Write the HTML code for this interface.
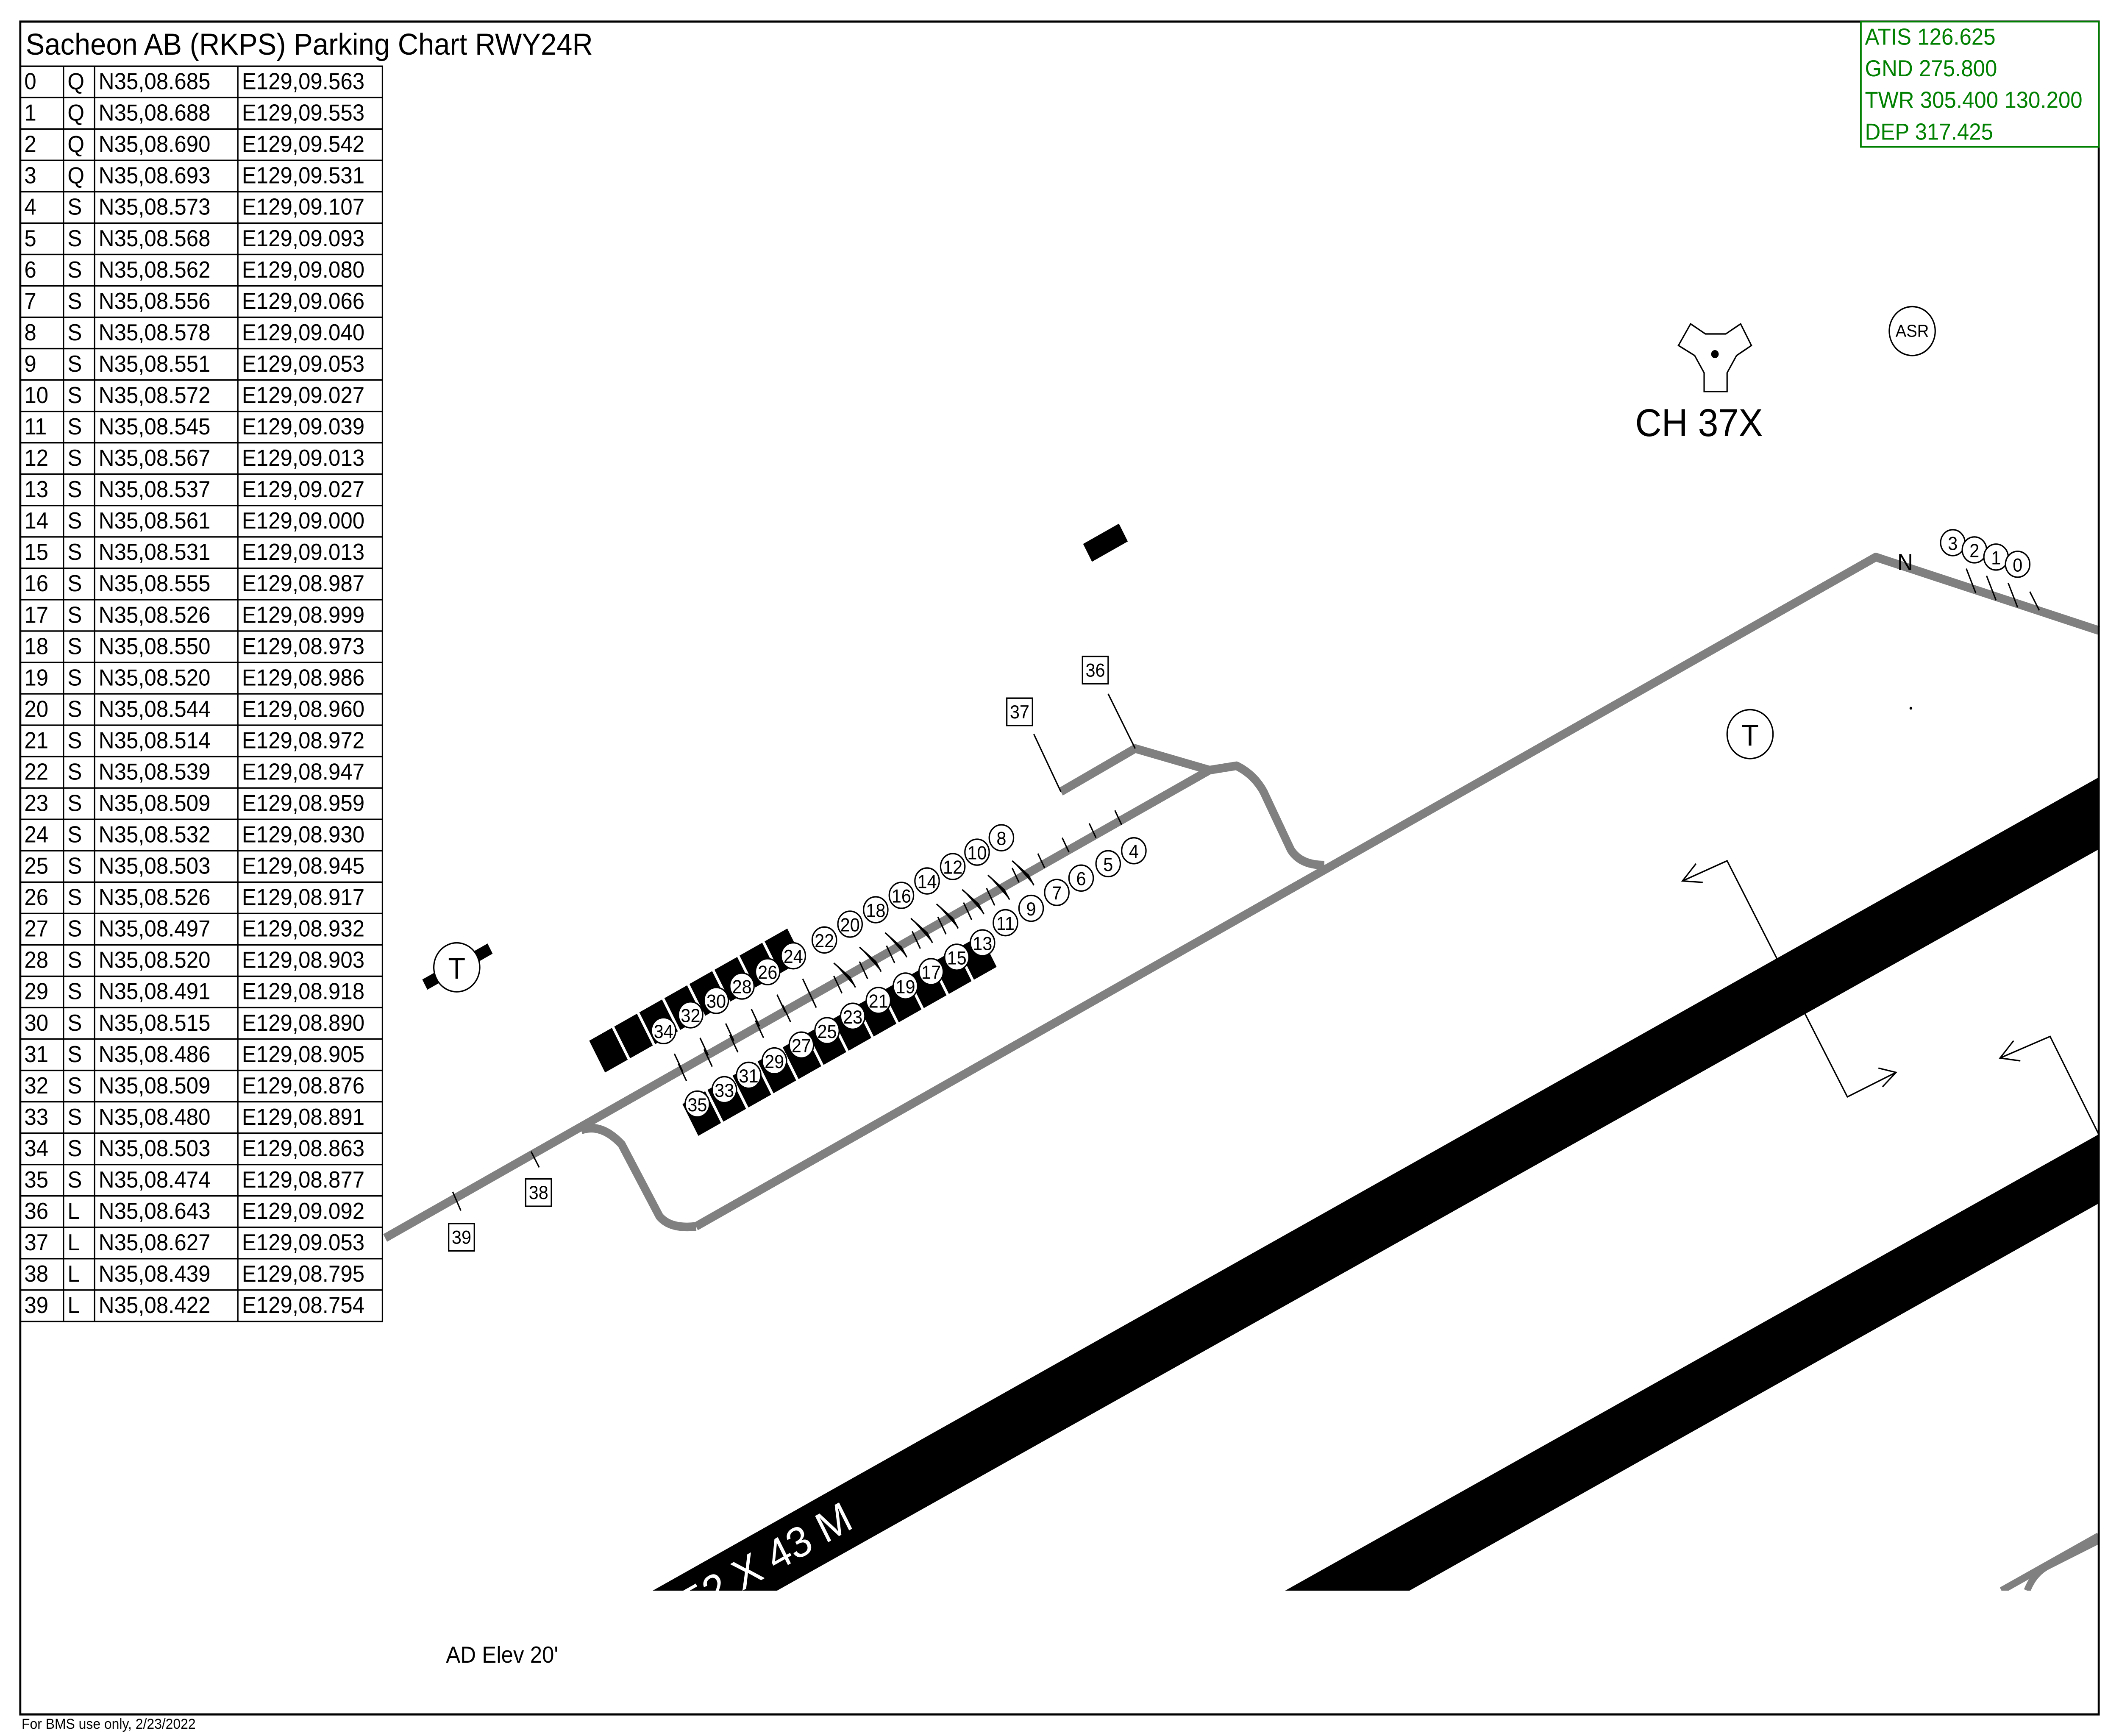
<!DOCTYPE html>
<html><head><meta charset="utf-8"><style>
html,body{margin:0;padding:0;background:#fff;overflow:hidden;width:100%;height:100%;}
svg{display:block;position:fixed;left:0;top:0;width:100vw;height:100vh;}
text{font-family:"Liberation Sans",sans-serif;}
</style></head><body>
<svg viewBox="0 0 1568 1206" preserveAspectRatio="none" xmlns="http://www.w3.org/2000/svg">
<rect width="1568" height="1206" fill="#fff"/>
<defs><clipPath id="cp"><rect x="15" y="15" width="1538" height="1090"/></clipPath></defs>
<g clip-path="url(#cp)">
<polygon points="483,1105 575,1105 1553,590 1553,540" fill="#000"/>
<polygon points="951,1105 1043,1105 1553,836 1553,788" fill="#000"/>
<text x="0" y="0" transform="translate(512,1125) rotate(-28)" font-size="30" fill="#fff">52 X 43 M</text>
<path d="M1481,1105 L1553,1067 M1500,1105 Q1505,1093 1515,1088 L1553,1070" stroke="#808080" stroke-width="5" fill="none"/>
</g>
<g stroke="#808080" stroke-width="6" fill="none" stroke-linejoin="round">
<path d="M285,860 L895,535 L915,532 Q928,538 935,550 L955,590 Q962,601 980,601"/>
<path d="M515,852 L1388,387 L1553,438"/>
<path d="M430,785 Q445,780 460,795 L488,845 Q496,854 515,852"/>
<path d="M785,550 L840,520 L895,535"/>
</g>
<rect x="15" y="15" width="1538" height="1176" fill="none" stroke="#000" stroke-width="1.5"/>
<text x="19" y="38" font-size="21">Sacheon AB (RKPS) Parking Chart RWY24R</text>
<rect x="1377" y="15" width="176" height="87" fill="#fff" stroke="#008000" stroke-width="1.2"/>
<g fill="#008000" font-size="16"><text x="1380" y="31">ATIS 126.625</text><text x="1380" y="53">GND 275.800</text><text x="1380" y="75">TWR 305.400 130.200</text><text x="1380" y="97">DEP 317.425</text></g>
<g stroke="#000" stroke-width="1" fill="none">
<rect x="15" y="46" width="268" height="872"/>
<path d="M47,46V918M70,46V918M176,46V918"/>
<path d="M15,67.8H283M15,89.6H283M15,111.4H283M15,133.2H283M15,155H283M15,176.8H283M15,198.6H283M15,220.4H283M15,242.2H283M15,264H283M15,285.8H283M15,307.6H283M15,329.4H283M15,351.2H283M15,373H283M15,394.8H283M15,416.6H283M15,438.4H283M15,460.2H283M15,482H283M15,503.8H283M15,525.6H283M15,547.4H283M15,569.2H283M15,591H283M15,612.8H283M15,634.6H283M15,656.4H283M15,678.2H283M15,700H283M15,721.8H283M15,743.6H283M15,765.4H283M15,787.2H283M15,809H283M15,830.8H283M15,852.6H283M15,874.4H283M15,896.2H283"/>
</g>
<g font-size="16">
<g transform="translate(0,46)"><text x="18" y="16">0</text><text x="50" y="16">Q</text><text x="73" y="16">N35,08.685</text><text x="179" y="16">E129,09.563</text></g>
<g transform="translate(0,67.8)"><text x="18" y="16">1</text><text x="50" y="16">Q</text><text x="73" y="16">N35,08.688</text><text x="179" y="16">E129,09.553</text></g>
<g transform="translate(0,89.6)"><text x="18" y="16">2</text><text x="50" y="16">Q</text><text x="73" y="16">N35,08.690</text><text x="179" y="16">E129,09.542</text></g>
<g transform="translate(0,111.4)"><text x="18" y="16">3</text><text x="50" y="16">Q</text><text x="73" y="16">N35,08.693</text><text x="179" y="16">E129,09.531</text></g>
<g transform="translate(0,133.2)"><text x="18" y="16">4</text><text x="50" y="16">S</text><text x="73" y="16">N35,08.573</text><text x="179" y="16">E129,09.107</text></g>
<g transform="translate(0,155)"><text x="18" y="16">5</text><text x="50" y="16">S</text><text x="73" y="16">N35,08.568</text><text x="179" y="16">E129,09.093</text></g>
<g transform="translate(0,176.8)"><text x="18" y="16">6</text><text x="50" y="16">S</text><text x="73" y="16">N35,08.562</text><text x="179" y="16">E129,09.080</text></g>
<g transform="translate(0,198.6)"><text x="18" y="16">7</text><text x="50" y="16">S</text><text x="73" y="16">N35,08.556</text><text x="179" y="16">E129,09.066</text></g>
<g transform="translate(0,220.4)"><text x="18" y="16">8</text><text x="50" y="16">S</text><text x="73" y="16">N35,08.578</text><text x="179" y="16">E129,09.040</text></g>
<g transform="translate(0,242.2)"><text x="18" y="16">9</text><text x="50" y="16">S</text><text x="73" y="16">N35,08.551</text><text x="179" y="16">E129,09.053</text></g>
<g transform="translate(0,264)"><text x="18" y="16">10</text><text x="50" y="16">S</text><text x="73" y="16">N35,08.572</text><text x="179" y="16">E129,09.027</text></g>
<g transform="translate(0,285.8)"><text x="18" y="16">11</text><text x="50" y="16">S</text><text x="73" y="16">N35,08.545</text><text x="179" y="16">E129,09.039</text></g>
<g transform="translate(0,307.6)"><text x="18" y="16">12</text><text x="50" y="16">S</text><text x="73" y="16">N35,08.567</text><text x="179" y="16">E129,09.013</text></g>
<g transform="translate(0,329.4)"><text x="18" y="16">13</text><text x="50" y="16">S</text><text x="73" y="16">N35,08.537</text><text x="179" y="16">E129,09.027</text></g>
<g transform="translate(0,351.2)"><text x="18" y="16">14</text><text x="50" y="16">S</text><text x="73" y="16">N35,08.561</text><text x="179" y="16">E129,09.000</text></g>
<g transform="translate(0,373)"><text x="18" y="16">15</text><text x="50" y="16">S</text><text x="73" y="16">N35,08.531</text><text x="179" y="16">E129,09.013</text></g>
<g transform="translate(0,394.8)"><text x="18" y="16">16</text><text x="50" y="16">S</text><text x="73" y="16">N35,08.555</text><text x="179" y="16">E129,08.987</text></g>
<g transform="translate(0,416.6)"><text x="18" y="16">17</text><text x="50" y="16">S</text><text x="73" y="16">N35,08.526</text><text x="179" y="16">E129,08.999</text></g>
<g transform="translate(0,438.4)"><text x="18" y="16">18</text><text x="50" y="16">S</text><text x="73" y="16">N35,08.550</text><text x="179" y="16">E129,08.973</text></g>
<g transform="translate(0,460.2)"><text x="18" y="16">19</text><text x="50" y="16">S</text><text x="73" y="16">N35,08.520</text><text x="179" y="16">E129,08.986</text></g>
<g transform="translate(0,482)"><text x="18" y="16">20</text><text x="50" y="16">S</text><text x="73" y="16">N35,08.544</text><text x="179" y="16">E129,08.960</text></g>
<g transform="translate(0,503.8)"><text x="18" y="16">21</text><text x="50" y="16">S</text><text x="73" y="16">N35,08.514</text><text x="179" y="16">E129,08.972</text></g>
<g transform="translate(0,525.6)"><text x="18" y="16">22</text><text x="50" y="16">S</text><text x="73" y="16">N35,08.539</text><text x="179" y="16">E129,08.947</text></g>
<g transform="translate(0,547.4)"><text x="18" y="16">23</text><text x="50" y="16">S</text><text x="73" y="16">N35,08.509</text><text x="179" y="16">E129,08.959</text></g>
<g transform="translate(0,569.2)"><text x="18" y="16">24</text><text x="50" y="16">S</text><text x="73" y="16">N35,08.532</text><text x="179" y="16">E129,08.930</text></g>
<g transform="translate(0,591)"><text x="18" y="16">25</text><text x="50" y="16">S</text><text x="73" y="16">N35,08.503</text><text x="179" y="16">E129,08.945</text></g>
<g transform="translate(0,612.8)"><text x="18" y="16">26</text><text x="50" y="16">S</text><text x="73" y="16">N35,08.526</text><text x="179" y="16">E129,08.917</text></g>
<g transform="translate(0,634.6)"><text x="18" y="16">27</text><text x="50" y="16">S</text><text x="73" y="16">N35,08.497</text><text x="179" y="16">E129,08.932</text></g>
<g transform="translate(0,656.4)"><text x="18" y="16">28</text><text x="50" y="16">S</text><text x="73" y="16">N35,08.520</text><text x="179" y="16">E129,08.903</text></g>
<g transform="translate(0,678.2)"><text x="18" y="16">29</text><text x="50" y="16">S</text><text x="73" y="16">N35,08.491</text><text x="179" y="16">E129,08.918</text></g>
<g transform="translate(0,700)"><text x="18" y="16">30</text><text x="50" y="16">S</text><text x="73" y="16">N35,08.515</text><text x="179" y="16">E129,08.890</text></g>
<g transform="translate(0,721.8)"><text x="18" y="16">31</text><text x="50" y="16">S</text><text x="73" y="16">N35,08.486</text><text x="179" y="16">E129,08.905</text></g>
<g transform="translate(0,743.6)"><text x="18" y="16">32</text><text x="50" y="16">S</text><text x="73" y="16">N35,08.509</text><text x="179" y="16">E129,08.876</text></g>
<g transform="translate(0,765.4)"><text x="18" y="16">33</text><text x="50" y="16">S</text><text x="73" y="16">N35,08.480</text><text x="179" y="16">E129,08.891</text></g>
<g transform="translate(0,787.2)"><text x="18" y="16">34</text><text x="50" y="16">S</text><text x="73" y="16">N35,08.503</text><text x="179" y="16">E129,08.863</text></g>
<g transform="translate(0,809)"><text x="18" y="16">35</text><text x="50" y="16">S</text><text x="73" y="16">N35,08.474</text><text x="179" y="16">E129,08.877</text></g>
<g transform="translate(0,830.8)"><text x="18" y="16">36</text><text x="50" y="16">L</text><text x="73" y="16">N35,08.643</text><text x="179" y="16">E129,09.092</text></g>
<g transform="translate(0,852.6)"><text x="18" y="16">37</text><text x="50" y="16">L</text><text x="73" y="16">N35,08.627</text><text x="179" y="16">E129,09.053</text></g>
<g transform="translate(0,874.4)"><text x="18" y="16">38</text><text x="50" y="16">L</text><text x="73" y="16">N35,08.439</text><text x="179" y="16">E129,08.795</text></g>
<g transform="translate(0,896.2)"><text x="18" y="16">39</text><text x="50" y="16">L</text><text x="73" y="16">N35,08.422</text><text x="179" y="16">E129,08.754</text></g>
</g>
<g transform="translate(436,723) rotate(-28)" fill="#000">
<rect x="0" y="0" width="19" height="25"/><rect x="21" y="0" width="19" height="25"/><rect x="42" y="0" width="19" height="25"/><rect x="63" y="0" width="19" height="25"/><rect x="84" y="0" width="19" height="25"/><rect x="105" y="0" width="19" height="25"/><rect x="126" y="0" width="19" height="25"/><rect x="147" y="0" width="19" height="25"/>
</g>
<g transform="translate(505,767) rotate(-28)" fill="#000">
<rect x="0" y="0" width="19" height="25"/><rect x="21" y="0" width="19" height="25"/><rect x="42" y="0" width="19" height="25"/><rect x="63" y="0" width="19" height="25"/><rect x="84" y="0" width="19" height="25"/><rect x="105" y="0" width="19" height="25"/><rect x="126" y="0" width="19" height="25"/><rect x="147" y="0" width="19" height="25"/><rect x="168" y="0" width="19" height="25"/><rect x="189" y="0" width="19" height="25"/><rect x="210" y="0" width="19" height="25"/><rect x="231" y="0" width="19" height="25"/>
</g>
<g stroke="#000" stroke-width="1">
<path d="M499,732l6,12M518,721l6,12M537,711l6,12M556,701l6,12M575,691l6,12M594,680l6,12M617,669l12,10l4,7M636,658l12,10l4,7M655,648l12,10l4,7M674,638l12,10l4,7M693,628l12,10l4,7M712,618l12,10l4,7M731,608l12,10l4,7M749,598l12,10l4,7"/>
<path d="M502,739l6,12M521,729l6,12M540,719l6,12M559,709l6,12M579,698l6,12M598,688l6,12M617,678l6,12M636,668l6,12M656,657l6,12M675,647l6,12M694,637l6,12M713,627l6,12M730,617l6,12M749,603l5,10M768,593l5,10M786,582l5,10M806,572l5,10M825,563l5,10"/>
</g>
<g font-size="13" text-anchor="middle" stroke="#000" stroke-width="1">
<g fill="#fff"><circle cx="839" cy="591" r="9"/><circle cx="820" cy="600" r="9"/><circle cx="800" cy="610" r="9"/><circle cx="782" cy="620" r="9"/><circle cx="763" cy="631" r="9"/><circle cx="744" cy="641" r="9"/><circle cx="727" cy="655" r="9"/><circle cx="708" cy="665" r="9"/><circle cx="689" cy="675" r="9"/><circle cx="670" cy="685" r="9"/><circle cx="650" cy="695" r="9"/><circle cx="631" cy="706" r="9"/><circle cx="612" cy="716" r="9"/><circle cx="593" cy="726" r="9"/><circle cx="573" cy="737" r="9"/><circle cx="554" cy="747" r="9"/><circle cx="536" cy="757" r="9"/><circle cx="516" cy="767" r="9"/>
<circle cx="741" cy="582" r="9"/><circle cx="723" cy="592" r="9"/><circle cx="705" cy="602" r="9"/><circle cx="686" cy="612" r="9"/><circle cx="667" cy="622" r="9"/><circle cx="648" cy="632" r="9"/><circle cx="629" cy="642" r="9"/><circle cx="610" cy="653" r="9"/><circle cx="587" cy="664" r="9"/><circle cx="568" cy="675" r="9"/><circle cx="549" cy="685" r="9"/><circle cx="530" cy="695" r="9"/><circle cx="511" cy="705" r="9"/><circle cx="491" cy="716" r="9"/>
<circle cx="1445" cy="377" r="9"/><circle cx="1461" cy="382" r="9"/><circle cx="1477" cy="387" r="9"/><circle cx="1493" cy="392" r="9"/></g>
<g fill="#000" stroke="none">
<text x="839" y="596">4</text><text x="820" y="605">5</text><text x="800" y="615">6</text><text x="782" y="625">7</text><text x="763" y="636">9</text><text x="744" y="646">11</text><text x="727" y="660">13</text><text x="708" y="670">15</text><text x="689" y="680">17</text><text x="670" y="690">19</text><text x="650" y="700">21</text><text x="631" y="711">23</text><text x="612" y="721">25</text><text x="593" y="731">27</text><text x="573" y="742">29</text><text x="554" y="752">31</text><text x="536" y="762">33</text><text x="516" y="772">35</text>
<text x="741" y="587">8</text><text x="723" y="597">10</text><text x="705" y="607">12</text><text x="686" y="617">14</text><text x="667" y="627">16</text><text x="648" y="637">18</text><text x="629" y="647">20</text><text x="610" y="658">22</text><text x="587" y="669">24</text><text x="568" y="680">26</text><text x="549" y="690">28</text><text x="530" y="700">30</text><text x="511" y="710">32</text><text x="491" y="721">34</text>
<text x="1445" y="382">3</text><text x="1461" y="387">2</text><text x="1477" y="392">1</text><text x="1493" y="397">0</text></g>
</g>
<path d="M1455,395l7,17M1470,400l7,17M1486,405l7,17M1502,411l7,13" stroke="#000" stroke-width="1"/>
<text x="1404" y="396" font-size="16">N</text>
<g stroke="#000" stroke-width="1">
<path d="M820,482L840,520M765,510L785,550M393,800l6,11M335,828l6,13"/>
<rect x="801" y="456" width="19" height="19" fill="#fff"/><rect x="745" y="485" width="19" height="19" fill="#fff"/><rect x="389" y="819" width="19" height="19" fill="#fff"/><rect x="332" y="850" width="19" height="19" fill="#fff"/>
</g>
<g font-size="13" text-anchor="middle"><text x="810.5" y="470">36</text><text x="754.5" y="499">37</text><text x="398.5" y="833">38</text><text x="341.5" y="864">39</text></g>
<rect x="-4" y="-4" width="8" height="8" transform="translate(320,681) rotate(-28) scale(1.6,1)" fill="#000"/>
<rect x="-4" y="-4" width="8" height="8" transform="translate(357,662) rotate(-28) scale(1.6,1)" fill="#000"/>
<circle cx="338" cy="672" r="17" fill="#fff" stroke="#000"/>
<text x="338" y="680" font-size="21" text-anchor="middle">T</text>
<circle cx="1295" cy="510" r="17" fill="#fff" stroke="#000"/>
<text x="1295" y="518" font-size="21" text-anchor="middle">T</text>
<circle cx="1415" cy="230" r="17" fill="#fff" stroke="#000"/>
<text x="1415" y="234" font-size="12" text-anchor="middle">ASR</text>
<polygon points="1251,225 1262,232 1277,232 1288,225 1296,240 1285,247 1278,259 1278,272 1261,272 1261,259 1254,247 1242,240" fill="#fff" stroke="#000" stroke-width="1"/>
<circle cx="1269" cy="246" r="2.8" fill="#000"/>
<text x="1210" y="303" font-size="27">CH 37X</text>
<rect x="-15" y="-7" width="30" height="14" transform="translate(818,377) rotate(-28)" fill="#000"/>
<circle cx="1414" cy="492" r="1" fill="#000"/>
<g stroke="#000" stroke-width="1" fill="none">
<path d="M1245,612L1278,598L1367,762L1403,745"/>
<path d="M1255,600L1245,612L1260,613M1390,742L1403,745L1393,755"/>
<path d="M1480,735L1517,720L1553,788"/>
<path d="M1490,723L1480,735L1495,737"/>
</g>
<text x="330" y="1155" font-size="16">AD Elev 20'</text>
<text x="16" y="1201" font-size="10">For BMS  use only, 2/23/2022</text>
</svg>
</body></html>
